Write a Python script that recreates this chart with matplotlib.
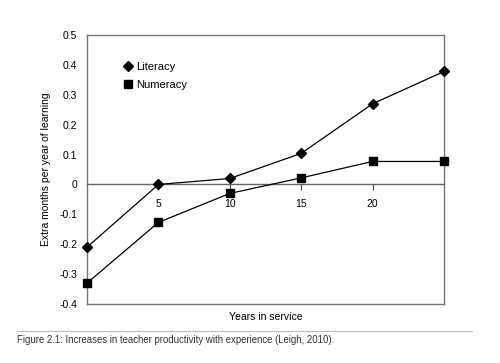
import matplotlib.pyplot as plt

plt.rcParams['font.family'] = ['Liberation Sans', 'DejaVu Sans']

years = [0, 5, 10, 15, 20, 25]
literacy = [-0.21, 0.0, 0.02, 0.104, 0.27, 0.378]
numeracy = [-0.33, -0.127, -0.03, 0.022, 0.077, 0.077]

xtick_vals = [5, 10, 15, 20]
ytick_vals = [-0.4, -0.3, -0.2, -0.1, 0, 0.1, 0.2, 0.3, 0.4, 0.5]
ytick_labels = ['-0.4', '-0.3', '-0.2', '-0.1', '0', '0.1', '0.2', '0.3', '0.4', '0.5']

fig = plt.figure(figsize=(5, 3.63), dpi=100)
ax = fig.add_axes([0.174, 0.1625, 0.714, 0.741])

ax.plot(years, literacy, '-', color='black', lw=0.9, marker='D', ms=5.5,
        label='Literacy', clip_on=False, zorder=3)
ax.plot(years, numeracy, '-', color='black', lw=0.9, marker='s', ms=6,
        label='Numeracy', clip_on=False, zorder=3)

ax.set_xlim(0, 25)
ax.set_ylim(-0.4, 0.5)

# frame
for s in ['left', 'right', 'top']:
    ax.spines[s].set_color('#777777')
    ax.spines[s].set_linewidth(1.0)
ax.spines['bottom'].set_position(('data', 0))
ax.spines['bottom'].set_color('#666666')
ax.spines['bottom'].set_linewidth(1.0)
ax.axhline(-0.4, color='#777777', lw=1.0, clip_on=False)

ax.set_xticks(xtick_vals)
ax.set_xticklabels([str(v) for v in xtick_vals], fontsize=7.5)
ax.tick_params(axis='x', direction='out', length=4, width=0.8, color='#444444', pad=6.5)
ax.set_yticks(ytick_vals)
ax.set_yticklabels(ytick_labels, fontsize=7.5)
ax.tick_params(axis='y', length=0, pad=7)

ax.set_ylabel('Extra months per year of learning', fontsize=7.5, labelpad=6)
ax.text(12.5, -0.443, 'Years in service', fontsize=7.5, ha='center', va='center')

ax.legend(loc='upper left', bbox_to_anchor=(0.092, 0.915), frameon=False, fontsize=8,
          handlelength=0.6, handletextpad=0.5, labelspacing=0.7, borderaxespad=0)

# caption
fig.add_artist(plt.Line2D([0.034, 0.944], [0.088, 0.088], color='#bbbbbb', lw=0.8))
fig.text(0.034, 0.063, 'Figure 2.1: Increases in teacher productivity with experience (Leigh, 2010).',
         fontsize=6.9, color='#333333', va='center')

fig.savefig('out.png', dpi=100)
